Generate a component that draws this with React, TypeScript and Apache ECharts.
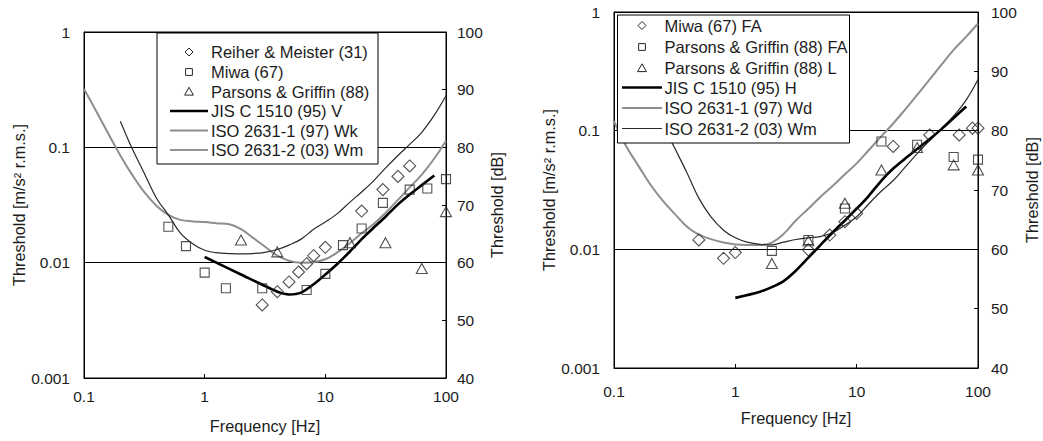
import React, { useEffect, useRef } from "react";
import * as echarts from "echarts";

// ---------- tick labels ----------
const xTickLabels = ["0.1", "1", "10", "100"];
const yTickLabels = ["0.001", "0.01", "0.1", "1"];

// ---------- LEFT chart (vertical) ----------
const reiherF = [3, 4, 5, 6, 7, 8, 10, 20, 30, 40, 50];
const reiherV = [0.0043, 0.0056, 0.0068, 0.0083, 0.0098, 0.0115, 0.0136, 0.028, 0.043, 0.056, 0.069];

const miwaF = [0.5, 0.7, 1, 1.5, 3, 7, 10, 14, 20, 30, 50, 70, 100];
const miwaV = [0.0205, 0.0139, 0.0082, 0.006, 0.006, 0.0058, 0.008, 0.0142, 0.0198, 0.033, 0.043, 0.044, 0.053];

const parsonsF = [2, 4, 16, 31.5, 63, 100];
const parsonsV = [0.0157, 0.0124, 0.0149, 0.0149, 0.0089, 0.0277];

const jisVF = [1, 2, 4, 5, 6.3, 8, 10, 12.5, 16, 20, 25, 31.5, 40, 50, 63, 80];
const jisVV = [0.0112, 0.0079, 0.0056, 0.0053, 0.0055, 0.0065, 0.0079, 0.0097, 0.0125, 0.016, 0.02, 0.025, 0.032, 0.039, 0.047, 0.057];

const wkF = [0.1, 0.125, 0.16, 0.2, 0.25, 0.315, 0.4, 0.5, 0.63, 0.8, 1, 1.25, 1.6, 2, 2.5, 3.15, 4, 5, 6.3, 8, 10, 12.5, 16, 20, 25, 31.5, 40, 50, 63, 80, 100];
const wkV = [0.32, 0.21, 0.13, 0.085, 0.058, 0.041, 0.031, 0.026, 0.0235, 0.0228, 0.0225, 0.022, 0.0215, 0.0195, 0.0165, 0.0138, 0.0115, 0.0104, 0.01, 0.0101, 0.0107, 0.0122, 0.0148, 0.018, 0.0215, 0.027, 0.035, 0.045, 0.058, 0.08, 0.114];

const wmLF = [0.2, 0.25, 0.315, 0.4, 0.5, 0.63, 0.8, 1, 1.25, 1.6, 2, 2.5, 3.15, 4, 5, 6.3, 8, 10, 12.5, 16, 20, 25, 31.5, 40, 50, 63, 80, 100];
const wmLV = [0.168, 0.098, 0.06, 0.036, 0.026, 0.018, 0.0145, 0.0128, 0.0122, 0.012, 0.0119, 0.012, 0.0123, 0.013, 0.0142, 0.016, 0.0195, 0.0225, 0.0265, 0.0335, 0.041, 0.051, 0.066, 0.085, 0.106, 0.135, 0.19, 0.28];

// ---------- RIGHT chart (horizontal) ----------
const miwaFAF = [0.5, 0.8, 1, 4, 6, 8, 10, 20, 40, 70, 90, 100];
const miwaFAV = [0.012, 0.0084, 0.0094, 0.0099, 0.0132, 0.0171, 0.0201, 0.0736, 0.092, 0.092, 0.105, 0.105];

const pgFAF = [2, 4, 8, 16, 31.5, 63, 100];
const pgFAV = [0.0097, 0.012, 0.0221, 0.081, 0.076, 0.06, 0.057];

const pgLF = [2, 4, 8, 16, 31.5, 63, 100];
const pgLV = [0.0076, 0.0118, 0.0245, 0.0467, 0.072, 0.0515, 0.0467];

const jisHF = [1, 1.6, 2, 2.5, 3.15, 4, 5, 6.3, 8, 10, 12.5, 16, 20, 25, 31.5, 40, 50, 63, 80];
const jisHV = [0.0039, 0.0044, 0.0048, 0.0054, 0.0066, 0.0085, 0.0108, 0.0138, 0.0175, 0.022, 0.028, 0.038, 0.048, 0.058, 0.07, 0.085, 0.103, 0.128, 0.16];

const wdF = [0.1, 0.125, 0.16, 0.2, 0.25, 0.315, 0.4, 0.5, 0.63, 0.8, 1, 1.25, 1.6, 2, 2.5, 3.15, 4, 5, 6.3, 8, 10, 12.5, 16, 20, 25, 31.5, 40, 50, 63, 80, 100];
const wdV = [0.12, 0.075, 0.05, 0.035, 0.026, 0.02, 0.0155, 0.0133, 0.0122, 0.0114, 0.011, 0.0109, 0.0109, 0.0114, 0.0135, 0.0175, 0.022, 0.0275, 0.034, 0.043, 0.053, 0.068, 0.09, 0.115, 0.15, 0.2, 0.27, 0.36, 0.48, 0.62, 0.8];

const wmRF = [0.2, 0.25, 0.315, 0.4, 0.5, 0.63, 0.8, 1, 1.25, 1.6, 2, 2.5, 3.15, 4, 5, 6.3, 8, 10, 12.5, 16, 20, 25, 31.5, 40, 50, 63, 80, 100];
const wmRV = [0.168, 0.115, 0.072, 0.044, 0.027, 0.0188, 0.0145, 0.0125, 0.0115, 0.011, 0.0109, 0.0115, 0.0121, 0.0125, 0.0128, 0.0138, 0.016, 0.0188, 0.024, 0.031, 0.038, 0.049, 0.064, 0.083, 0.104, 0.133, 0.182, 0.27];

const leftLegendNames = [
  "Reiher & Meister (31)",
  "Miwa (67)",
  "Parsons & Griffin (88)",
  "JIS C 1510 (95) V",
  "ISO 2631-1 (97) Wk",
  "ISO 2631-2 (03) Wm",
];
const rightLegendNames = [
  "Miwa (67) FA",
  "Parsons & Griffin (88) FA",
  "Parsons & Griffin (88) L",
  "JIS C 1510 (95) H",
  "ISO 2631-1 (97) Wd",
  "ISO 2631-2 (03) Wm",
];

const FONT = '"Liberation Sans", Arial, Helvetica, sans-serif';
const TXT = "#1c1c1c";
const MARK = "#262626";
const GRAY = "#8e8e8e";
const pairs = (f: number[], v: number[]) => f.map((x, i) => [x, v[i]]);

const xFmt = (v: number) => xTickLabels[Math.round(Math.log10(v)) + 1] ?? "";
const yFmt = (v: number) => yTickLabels[Math.round(Math.log10(v)) + 3] ?? "";

function scatter(name: string, f: number[], v: number[], symbol: string, size: any, idx: number) {
  return {
    type: "scatter",
    name,
    xAxisIndex: idx,
    yAxisIndex: idx * 2,
    data: pairs(f, v),
    symbol,
    symbolSize: size,
    itemStyle: { color: "rgba(0,0,0,0)", borderColor: MARK, borderWidth: 1.1 },
    z: 3,
  };
}
function line(name: string, f: number[], v: number[], color: string, width: number, idx: number, smooth: any) {
  return {
    type: "line",
    name,
    xAxisIndex: idx,
    yAxisIndex: idx * 2,
    data: pairs(f, v),
    showSymbol: false,
    symbol: "none",
    smooth,
    lineStyle: { color, width },
    z: 2,
  };
}

function xAxis(gridIndex: number, labelMargin: number, nameGap: number) {
  return {
    type: "log",
    logBase: 10,
    gridIndex,
    min: 0.1,
    max: 100,
    name: "Frequency [Hz]",
    nameLocation: "middle",
    nameGap,
    nameTextStyle: { fontFamily: FONT, fontSize: 16.3, color: TXT },
    axisLine: { show: true, lineStyle: { color: "#000", width: 1 } },
    axisTick: { show: true, inside: true, length: 4, lineStyle: { color: "#000" } },
    minorTick: { show: false },
    splitLine: { show: false },
    axisLabel: { formatter: xFmt, fontFamily: FONT, fontSize: 15.5, color: TXT, margin: labelMargin, showMinLabel: true, showMaxLabel: true },
  };
}
function yLogAxis(gridIndex: number, nameGap: number) {
  return {
    type: "log",
    logBase: 10,
    gridIndex,
    min: 0.001,
    max: 1,
    position: "left",
    name: "Threshold [m/s² r.m.s.]",
    nameLocation: "middle",
    nameGap,
    nameRotate: 90,
    nameTextStyle: { fontFamily: FONT, fontSize: 16.3, color: TXT },
    axisLine: { show: true, lineStyle: { color: "#000", width: 1 } },
    axisTick: { show: true, inside: true, length: 4, lineStyle: { color: "#000" } },
    minorTick: { show: false },
    splitLine: { show: true, lineStyle: { color: "#000", width: 1 } },
    axisLabel: { formatter: yFmt, fontFamily: FONT, fontSize: 15.5, color: TXT, margin: 14, showMinLabel: true, showMaxLabel: true },
  };
}
function yDbAxis(gridIndex: number, labelMargin: number, nameGap: number) {
  return {
    type: "value",
    gridIndex,
    min: 40,
    max: 100,
    interval: 10,
    position: "right",
    name: "Threshold [dB]",
    nameLocation: "middle",
    nameGap,
    nameRotate: 90,
    nameTextStyle: { fontFamily: FONT, fontSize: 16.3, color: TXT },
    axisLine: { show: true, lineStyle: { color: "#000", width: 1 } },
    axisTick: { show: true, inside: true, length: 4, lineStyle: { color: "#000" } },
    splitLine: { show: false },
    axisLabel: { fontFamily: FONT, fontSize: 15.5, color: TXT, margin: labelMargin, showMinLabel: true, showMaxLabel: true },
  };
}

type Row = { kind: string; text: string };
function legend(box: { x: number; y: number; w: number; h: number }, rowsY: number[], cx: number, lx1: number, lx2: number, tx: number, rows: Row[]) {
  const els: any[] = [
    {
      type: "rect",
      shape: { x: box.x, y: box.y, width: box.w, height: box.h },
      style: { fill: "#fff", stroke: "#000", lineWidth: 1 },
      z: 100,
      silent: true,
    },
  ];
  rows.forEach((r, i) => {
    const y = rowsY[i];
    if (r.kind === "diamond") {
      els.push({ type: "polygon", shape: { points: [[cx, y - 4], [cx + 4, y], [cx, y + 4], [cx - 4, y]] }, style: { fill: "none", stroke: MARK, lineWidth: 1 }, z: 101, silent: true });
    } else if (r.kind === "square") {
      els.push({ type: "rect", shape: { x: cx - 3.4, y: y - 3.4, width: 6.8, height: 6.8 }, style: { fill: "none", stroke: MARK, lineWidth: 1 }, z: 101, silent: true });
    } else if (r.kind === "triangle") {
      els.push({ type: "polygon", shape: { points: [[cx, y - 4.2], [cx + 4.4, y + 3.6], [cx - 4.4, y + 3.6]] }, style: { fill: "none", stroke: MARK, lineWidth: 1 }, z: 101, silent: true });
    } else {
      const st = r.kind === "jis" ? { stroke: "#000", lineWidth: 2.6 } : r.kind === "iso1" ? { stroke: GRAY, lineWidth: 2 } : { stroke: "#2a2a2a", lineWidth: 1.2 };
      els.push({ type: "line", shape: { x1: lx1, y1: y, x2: lx2, y2: y }, style: st, z: 101, silent: true });
    }
    els.push({
      type: "text",
      x: tx,
      y,
      style: { text: r.text, font: `16.5px ${FONT}`, fill: TXT, textAlign: "left", textVerticalAlign: "middle", align: "left", verticalAlign: "middle" },
      z: 102,
      silent: true,
    });
  });
  return els;
}

export default function App() {
  const ref = useRef<HTMLDivElement>(null);
  useEffect(() => {
    if (!ref.current) return;
    const chart = echarts.init(ref.current, undefined, { renderer: "svg" });
    const kindsL = ["diamond", "square", "triangle", "jis", "iso1", "iso2"];
    const option: any = {
      animation: false,
      backgroundColor: "#fff",
      textStyle: { fontFamily: FONT },
      grid: [
        { left: 84, top: 32, width: 362, height: 346, show: true, borderColor: "#000", borderWidth: 1, backgroundColor: "rgba(0,0,0,0)" },
        { left: 614, top: 12, width: 364, height: 356, show: true, borderColor: "#000", borderWidth: 1, backgroundColor: "rgba(0,0,0,0)" },
      ],
      xAxis: [xAxis(0, 10, 40), xAxis(1, 15, 42)],
      yAxis: [yLogAxis(0, 55), yDbAxis(0, 11, 43), yLogAxis(1, 55), yDbAxis(1, 13, 46)],
      series: [
        line(leftLegendNames[4], wkF, wkV, GRAY, 2, 0, 0.4),
        line(leftLegendNames[5], wmLF, wmLV, "#2a2a2a", 1.2, 0, 0.4),
        line(leftLegendNames[3], jisVF, jisVV, "#000", 2.6, 0, 0.2),
        scatter(leftLegendNames[0], reiherF, reiherV, "diamond", 12, 0),
        scatter(leftLegendNames[1], miwaF, miwaV, "rect", 9, 0),
        scatter(leftLegendNames[2], parsonsF, parsonsV, "triangle", [11, 10], 0),
        line(rightLegendNames[4], wdF, wdV, GRAY, 2, 1, 0.4),
        line(rightLegendNames[5] + " ", wmRF, wmRV, "#2a2a2a", 1.2, 1, 0.4),
        line(rightLegendNames[3], jisHF, jisHV, "#000", 2.6, 1, 0.3),
        scatter(rightLegendNames[0], miwaFAF, miwaFAV, "diamond", 12, 1),
        scatter(rightLegendNames[1], pgFAF, pgFAV, "rect", 9, 1),
        scatter(rightLegendNames[2], pgLF, pgLV, "triangle", [11, 10], 1),
      ],
      graphic: [
        ...legend({ x: 157, y: 33, w: 221, h: 131 }, [52, 72, 91.5, 111, 130.5, 150], 189, 170, 208, 211, leftLegendNames.map((t, i) => ({ kind: kindsL[i], text: t }))),
        ...legend({ x: 617.5, y: 15, w: 232, h: 128 }, [25.5, 47, 68, 87.5, 108, 128.5], 642, 622, 662, 664.5, rightLegendNames.map((t, i) => ({ kind: kindsL[i], text: t }))),
      ],
    };
    chart.setOption(option);
    return () => chart.dispose();
  }, []);
  return <div ref={ref} style={{ position: "fixed", left: 0, top: 0, width: 1043, height: 441, background: "#fff" }} />;
}
